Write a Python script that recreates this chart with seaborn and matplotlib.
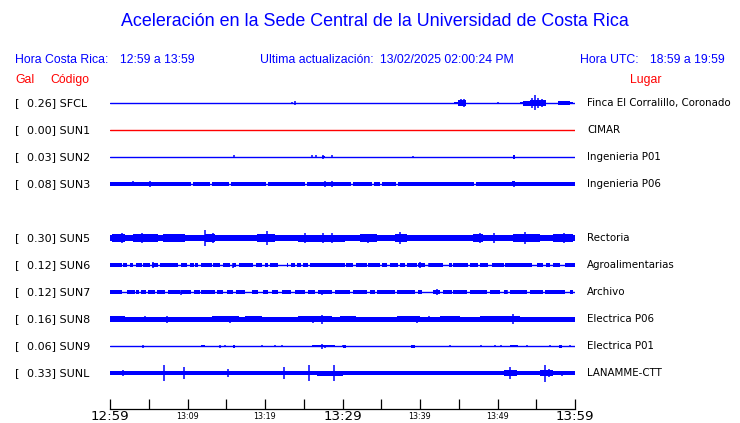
import matplotlib
matplotlib.use("Agg")
import matplotlib.pyplot as plt
import seaborn as sns
import pandas as pd

# station metadata
STATIONS = ['SFCL', 'SUN1', 'SUN2', 'SUN3', 'SUN5', 'SUN6', 'SUN7', 'SUN8', 'SUN9', 'SUNL']
GAL = [0.26, 0.00, 0.03, 0.08, 0.30, 0.12, 0.12, 0.16, 0.06, 0.33]
PLACES = ['Finca El Corralillo, Coronado', 'CIMAR', 'Ingenieria P01', 'Ingenieria P06',
          'Rectoria', 'Agroalimentarias', 'Archivo', 'Electrica P06', 'Electrica P01',
          'LANAMME-CTT']
TRACE_COLORS = ['blue', 'red', 'blue', 'blue', 'blue', 'blue', 'blue', 'blue', 'blue', 'blue']

TICK_LABELS = ['12:59', '', '13:09', '', '13:19', '', '13:29', '', '13:39', '', '13:49', '', '13:59']

# envelope segments: (start minute, end minute, half amplitude)
SFCL_SEG = [(44.4, 44.9, 1.3), (44.9, 45.9, 3.0), (52.9, 53.3, 1.0), (53.3, 54.2, 2.5),
            (54.2, 56.3, 3.3), (57.8, 59.4, 2.0), (59.4, 59.8, 1.0)]
SUN1_SEG = []
SUN2_SEG = [(27.3, 27.7, 1.0), (52.0, 52.3, 2.0)]
SUN3_SEG = [(0.0, 10.5, 1.7), (10.7, 12.9, 1.7), (13.2, 15.4, 1.7), (15.6, 20.1, 1.7),
            (20.4, 25.2, 1.7), (25.4, 31.1, 1.7), (31.4, 33.8, 1.7), (34.1, 34.8, 1.7),
            (35.1, 36.9, 1.7), (37.2, 47.0, 1.7), (47.2, 60.0, 1.7), (51.9, 52.3, 2.5)]
SUN5_SEG = [(0.0, 60.0, 2.9), (0.3, 1.9, 4.0), (3.0, 6.2, 3.8), (6.8, 9.7, 3.8),
            (12.3, 13.5, 4.2), (19.0, 21.3, 3.8), (24.3, 30.3, 3.5), (32.3, 34.4, 3.8),
            (36.8, 38.3, 4.2), (46.8, 48.1, 4.2), (52.0, 55.5, 4.2), (57.2, 59.7, 4.0)]
SUN6_SEG = [(0.0, 1.5, 1.7), (1.7, 2.2, 1.7), (2.6, 3.0, 1.7), (3.4, 4.1, 1.7), (4.3, 5.2, 1.7),
            (5.4, 6.2, 1.7), (6.5, 8.8, 1.7), (9.2, 9.9, 1.7), (10.3, 10.8, 1.7), (11.0, 11.4, 1.7),
            (11.8, 13.1, 1.7), (13.3, 14.2, 1.7), (14.6, 15.5, 1.7), (15.9, 16.3, 1.7),
            (16.6, 18.5, 1.7), (18.9, 19.6, 1.7), (20.0, 20.4, 1.7), (20.6, 21.7, 1.7),
            (22.8, 23.0, 1.7), (23.4, 23.9, 1.7), (24.1, 24.7, 1.7), (24.9, 25.6, 1.7),
            (25.8, 30.3, 1.7), (30.5, 31.4, 1.7), (31.8, 33.1, 1.7), (33.3, 34.8, 1.7),
            (35.1, 35.7, 1.7), (36.1, 37.2, 1.7), (37.4, 38.1, 1.7), (38.3, 39.6, 1.7),
            (39.8, 40.6, 1.7), (41.1, 43.0, 1.7), (43.7, 44.1, 1.7), (44.3, 46.2, 1.7),
            (46.5, 47.5, 1.7), (47.7, 48.8, 1.7), (49.3, 50.8, 1.7), (51.0, 54.4, 1.7),
            (55.1, 55.9, 1.7), (56.3, 56.8, 1.7), (57.2, 58.1, 1.7), (58.7, 60.0, 1.7)]
SUN7_SEG = [(0.0, 1.5, 1.7), (2.2, 3.2, 1.7), (3.4, 3.7, 1.7), (4.0, 4.7, 1.7), (4.9, 5.8, 1.7),
            (6.0, 7.1, 1.7), (7.5, 9.0, 1.7), (9.2, 10.5, 1.7), (10.8, 11.6, 1.7),
            (11.8, 13.5, 1.7), (13.8, 14.6, 1.7), (15.1, 15.9, 1.7), (16.3, 17.4, 1.7),
            (18.3, 19.1, 1.7), (19.8, 20.4, 1.7), (20.9, 21.7, 1.7), (22.2, 23.4, 1.7),
            (23.9, 25.2, 1.7), (25.6, 26.5, 1.7), (26.9, 28.6, 1.7), (29.0, 31.0, 1.7),
            (31.4, 33.1, 1.7), (33.6, 34.2, 1.7), (34.4, 36.8, 1.7), (37.0, 39.4, 1.7),
            (39.8, 40.2, 1.7), (41.7, 42.6, 1.7), (43.0, 44.1, 1.7), (44.3, 46.0, 1.7),
            (46.5, 48.6, 1.7), (49.0, 50.3, 1.7), (50.8, 51.2, 1.7), (51.6, 53.8, 1.7),
            (54.2, 55.9, 1.7), (56.1, 58.7, 1.7), (59.4, 59.8, 1.7)]
SUN8_SEG = [(0.0, 60.0, 2.5), (0.0, 1.9, 3.3), (13.1, 16.6, 3.3), (17.4, 19.6, 3.3),
            (24.3, 28.6, 3.3), (29.7, 31.8, 3.3), (37.0, 40.0, 3.3), (42.6, 45.2, 3.3),
            (47.7, 52.9, 3.3)]
SUN9_SEG = [(11.8, 12.3, 1.0), (15.9, 16.1, 1.5), (26.0, 29.0, 0.9), (30.1, 30.5, 1.5),
            (38.9, 39.3, 1.5), (51.6, 52.7, 1.3), (57.9, 58.3, 1.5)]
SUNL_SEG = [(0.0, 60.0, 2.1), (26.7, 30.0, 2.5), (50.8, 52.5, 2.7), (55.5, 57.2, 2.7)]

# isolated spikes: (minute, half amplitude)
SFCL_SPK = [(23.5, 1.0), (23.9, 2.0), (45.3, 3.5), (45.7, 4.0), (50.1, 1.0), (54.4, 5.0),
            (54.8, 7.5), (55.2, 5.0), (55.7, 4.0)]
SUN1_SPK = []
SUN2_SPK = [(16.0, 1.5), (26.0, 1.5), (26.6, 1.5), (27.5, 2.0), (28.6, 1.5), (39.1, 1.0)]
SUN3_SPK = [(3.0, 2.5), (5.1, 3.0), (27.7, 3.0), (28.6, 3.0), (52.1, 3.2)]
SUN5_SPK = [(1.5, 5.0), (4.1, 5.0), (12.3, 8.0), (13.3, 5.0), (20.2, 7.0), (25.2, 5.0),
            (27.5, 5.0), (28.6, 5.0), (33.3, 4.5), (37.4, 6.0), (47.7, 5.0), (49.6, 5.0),
            (53.5, 6.0), (58.6, 5.0)]
SUN6_SPK = [(5.5, 3.0), (15.9, 2.5), (40.0, 3.0), (41.1, 2.0)]
SUN7_SPK = [(9.2, 2.5), (11.0, 2.0), (27.3, 2.5), (42.2, 3.0), (46.7, 2.0), (51.2, 2.0)]
SUN8_SPK = [(4.5, 3.0), (7.3, 3.5), (15.5, 3.5), (26.2, 3.5), (27.3, 4.5), (39.6, 3.5),
            (41.1, 3.0), (52.0, 5.0)]
SUN9_SPK = [(4.3, 1.5), (14.2, 1.5), (14.8, 1.0), (19.6, 1.0), (21.3, 1.0), (22.2, 1.0),
            (27.3, 2.5), (27.7, 1.5), (30.1, 1.0), (43.9, 1.0), (47.9, 1.0), (49.7, 1.0),
            (50.5, 1.0), (53.8, 1.0), (56.8, 1.0), (59.4, 1.0)]
SUNL_SPK = [(1.7, 3.0), (3.8, 2.0), (7.0, 8.0), (9.6, 6.0), (15.2, 4.0), (17.3, 2.0),
            (22.5, 6.0), (25.7, 8.0), (28.9, 8.0), (31.0, 2.0), (34.2, 2.0), (35.3, 2.0),
            (39.8, 2.0), (48.3, 2.0), (51.6, 6.0), (56.1, 8.5), (56.6, 4.0), (58.3, 2.5)]

SEGMENTS = [SFCL_SEG, SUN1_SEG, SUN2_SEG, SUN3_SEG, SUN5_SEG, SUN6_SEG, SUN7_SEG,
            SUN8_SEG, SUN9_SEG, SUNL_SEG]
SPIKES = [SFCL_SPK, SUN1_SPK, SUN2_SPK, SUN3_SPK, SUN5_SPK, SUN6_SPK, SUN7_SPK,
          SUN8_SPK, SUN9_SPK, SUNL_SPK]

# layout (pixel rows, SUN4 slot left empty)
ROW_SLOTS = [0, 1, 2, 3, 5, 6, 7, 8, 9, 10]
FIRST_ROW_Y = 103
ROW_STEP = 27
W, H = 740, 423

sns.set_theme(style='white')
plt.rcParams['font.family'] = ['DejaVu Sans']

fig = plt.figure(figsize=(W / 100, H / 100), dpi=100)
fig.patch.set_facecolor('white')

# axes in pixel units vertically, minutes horizontally
ax = fig.add_axes([110 / W, (H - 409) / H, 465 / W, 319 / H])
ax.set_xlim(0, 60)
ax.set_ylim(409, 90)
ax.set_facecolor('white')

rows_y = [FIRST_ROW_Y + ROW_STEP * s for s in ROW_SLOTS]

# baselines through seaborn
base = pd.DataFrame({
    'station': [s for s in STATIONS for _ in range(2)],
    'minute': [m for _ in STATIONS for m in (0, 60)],
    'y': [y for y in rows_y for _ in range(2)],
})
sns.lineplot(data=base, x='minute', y='y', hue='station', palette=dict(zip(STATIONS, TRACE_COLORS)),
             estimator=None, legend=False, lw=1.0, ax=ax)

for yc, col, segs, spks in zip(rows_y, TRACE_COLORS, SEGMENTS, SPIKES):
    for s, e, a in segs:
        ax.fill_between([s, e], yc - a, yc + a, color=col, lw=0)
    if spks:
        t = [p[0] for p in spks]
        amp = [p[1] for p in spks]
        ax.vlines(t, [yc - a for a in amp], [yc + a for a in amp], color=col, lw=1.1)

ax.set_xlabel('')
ax.set_ylabel('')
ax.set_yticks([])
for side in ['top', 'left', 'right']:
    ax.spines[side].set_visible(False)
ax.spines['bottom'].set_color('black')
ax.spines['bottom'].set_linewidth(0.9)

ticks = list(range(0, 61, 5))
big = [t for t, l in zip(ticks, TICK_LABELS) if l in ('12:59', '13:29', '13:59')]
small = [t for t in ticks if t not in big]
ax.set_xticks(big)
ax.set_xticklabels([TICK_LABELS[ticks.index(t)] for t in big])
ax.set_xticks(small, minor=True)
ax.set_xticklabels([TICK_LABELS[ticks.index(t)] for t in small], minor=True)
ax.tick_params(axis='x', which='major', direction='in', length=7, width=0.9, colors='black',
               labelsize=9.6, pad=0.5, bottom=True)
ax.tick_params(axis='x', which='minor', direction='in', length=7, width=0.9, colors='black',
               labelsize=5.8, pad=2.5, bottom=True)


def px(x, y):
    return x / W, 1 - y / H


blue = '#0000ff'
red = '#ff0000'
hdr = dict(family=['Liberation Sans'], fontsize=8.8, va='center')

fig.text(*px(375, 22), 'Aceleración en la Sede Central de la Universidad de Costa Rica',
         color=blue, family=['Liberation Sans'], fontsize=12.9, ha='center', va='center')
fig.text(*px(15, 60), 'Hora Costa Rica:', color=blue, **hdr)
fig.text(*px(120, 60), '12:59 a 13:59', color=blue, **hdr)
fig.text(*px(260, 60), 'Ultima actualización:', color=blue, **hdr)
fig.text(*px(380, 60), '13/02/2025 02:00:24 PM', color=blue, **hdr)
fig.text(*px(580, 60), 'Hora UTC:', color=blue, **hdr)
fig.text(*px(650, 60), '18:59 a 19:59', color=blue, **hdr)
fig.text(*px(15, 80), 'Gal', color=red, **hdr)
fig.text(*px(50, 80), 'Código', color=red, **hdr)
fig.text(*px(630, 80), 'Lugar', color=red, **hdr)

for yc, code, g, place in zip(rows_y, STATIONS, GAL, PLACES):
    fig.text(*px(15, yc), '[', fontsize=8, va='center', color='black')
    fig.text(*px(27, yc), f'{g:.2f}] {code}', fontsize=8, va='center', color='black')
    fig.text(*px(587, yc), place, fontsize=7.4, va='center', color='black')

fig.savefig('out.png', dpi=100, facecolor='white')
